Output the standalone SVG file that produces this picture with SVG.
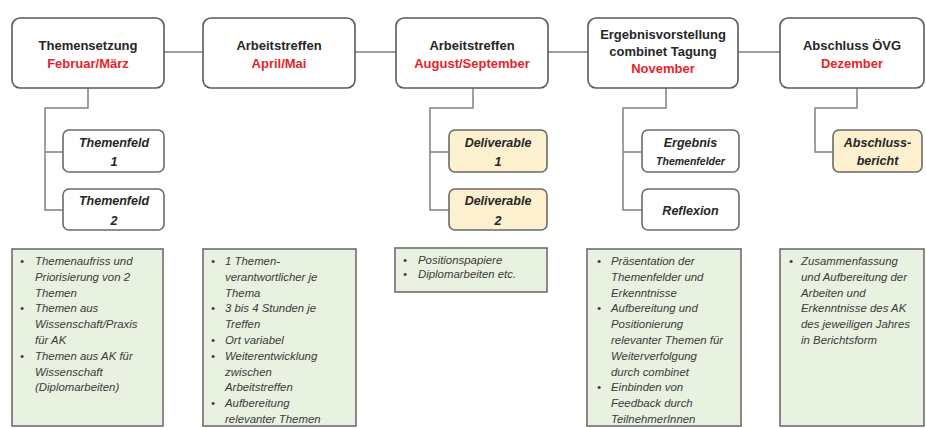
<svg xmlns="http://www.w3.org/2000/svg" width="926" height="428" viewBox="0 0 926 428">
<style>
.top{fill:#fff;stroke:#5a5a5a;stroke-width:1.6}
.sub{fill:#fff;stroke:#6a6a6a;stroke-width:1.6}
.sub.y{fill:#fcf0cf}
.note{fill:#e9f1e1;stroke:#6e6e6e;stroke-width:1.6}
.t{font-family:"Liberation Sans",Arial,sans-serif;font-weight:bold;font-size:13px;fill:#262626;text-anchor:middle}
.r{fill:#e8232b}
.s{font-family:"Liberation Sans",Arial,sans-serif;font-weight:bold;font-style:italic;font-size:12.5px;fill:#262626;text-anchor:middle}
.b{font-family:"Liberation Sans",Arial,sans-serif;font-style:italic;font-size:11.4px;fill:#3a3a3a}
.c{fill:none;stroke:#808080;stroke-width:1.5}
</style>
<rect width="926" height="428" fill="#fff"/>
<g id="connectors">
<path class="c" d="M164 52H203M355 52H396M548 52H588M738 52H780"/>
<path class="c" d="M88 88V108H45V210H63M45 152H63"/>
<path class="c" d="M473 88V108H430V210H449M430 152H449"/>
<path class="c" d="M666 88V108H623V210H642M623 152H642"/>
<path class="c" d="M857 88V108H815V152H833"/>
</g>
<g id="n1"><rect class="top" x="12" y="18" width="152" height="70" rx="8"/>
<text class="t" x="88" y="50">Themensetzung</text><text class="t r" x="88" y="68">Februar/März</text></g>
<g id="n2"><rect class="top" x="203" y="18" width="152" height="70" rx="8"/>
<text class="t" x="279" y="50">Arbeitstreffen</text><text class="t r" x="279" y="68">April/Mai</text></g>
<g id="n3"><rect class="top" x="396" y="18" width="152" height="70" rx="8"/>
<text class="t" x="472" y="50">Arbeitstreffen</text><text class="t r" x="472" y="68">August/September</text></g>
<g id="n4"><rect class="top" x="588" y="18" width="150" height="70" rx="8"/>
<text class="t" x="663" y="38.5">Ergebnisvorstellung</text><text class="t" x="663" y="55.5">combinet Tagung</text><text class="t r" x="663" y="72.5">November</text></g>
<g id="n5"><rect class="top" x="780" y="18" width="144" height="70" rx="8"/>
<text class="t" x="852" y="50">Abschluss ÖVG</text><text class="t r" x="852" y="68">Dezember</text></g>

<g id="s1"><rect class="sub" x="63" y="130" width="101" height="42" rx="6"/>
<text class="s" x="114" y="146.5">Themenfeld</text><text class="s" x="114" y="166">1</text></g>
<g id="s2"><rect class="sub" x="63" y="189" width="101" height="41" rx="6"/>
<text class="s" x="114" y="205">Themenfeld</text><text class="s" x="114" y="224.5">2</text></g>
<g id="s3"><rect class="sub y" x="449" y="130" width="98" height="42" rx="6"/>
<text class="s" x="498" y="146.5">Deliverable</text><text class="s" x="498" y="166">1</text></g>
<g id="s4"><rect class="sub y" x="449" y="189" width="98" height="41" rx="6"/>
<text class="s" x="498" y="205">Deliverable</text><text class="s" x="498" y="224.5">2</text></g>
<g id="s5"><rect class="sub" x="642" y="130" width="97" height="42" rx="6"/>
<text class="s" x="690.5" y="146.5">Ergebnis</text><text class="s" x="690.5" y="165" style="font-size:10.5px">Themenfelder</text></g>
<g id="s6"><rect class="sub" x="642" y="189" width="97" height="41" rx="6"/>
<text class="s" x="690.5" y="214.5">Reflexion</text></g>
<g id="s7"><rect class="sub y" x="833" y="130" width="89" height="42" rx="6"/>
<text class="s" x="877.5" y="146.5">Abschluss-</text><text class="s" x="877.5" y="165">bericht</text></g>

<g id="b1"><rect class="note" x="12" y="249" width="151" height="177"/>
<g class="b"><text x="20" y="265">•</text><text x="20" y="312.4">•</text><text x="20" y="359.8">•</text></g>
<text class="b" x="35" y="265"><tspan x="35">Themenaufriss und</tspan><tspan x="35" dy="15.8">Priorisierung von 2</tspan><tspan x="35" dy="15.8">Themen</tspan><tspan x="35" dy="15.8">Themen aus</tspan><tspan x="35" dy="15.8">Wissenschaft/Praxis</tspan><tspan x="35" dy="15.8">für AK</tspan><tspan x="35" dy="15.8">Themen aus AK für</tspan><tspan x="35" dy="15.8">Wissenschaft</tspan><tspan x="35" dy="15.8">(Diplomarbeiten)</tspan></text></g>
<g id="b2"><rect class="note" x="203" y="249" width="153" height="177"/>
<g class="b"><text x="211" y="265">•</text><text x="211" y="312.4">•</text><text x="211" y="344">•</text><text x="211" y="359.8">•</text><text x="211" y="407.2">•</text></g>
<text class="b" x="225" y="265"><tspan x="225">1 Themen-</tspan><tspan x="225" dy="15.8">verantwortlicher je</tspan><tspan x="225" dy="15.8">Thema</tspan><tspan x="225" dy="15.8">3 bis 4 Stunden je</tspan><tspan x="225" dy="15.8">Treffen</tspan><tspan x="225" dy="15.8">Ort variabel</tspan><tspan x="225" dy="15.8">Weiterentwicklung</tspan><tspan x="225" dy="15.8">zwischen</tspan><tspan x="225" dy="15.8">Arbeitstreffen</tspan><tspan x="225" dy="15.8">Aufbereitung</tspan><tspan x="225" dy="15.8">relevanter Themen</tspan></text></g>
<g id="b3"><rect class="note" x="395" y="248" width="152" height="44"/>
<g class="b"><text x="403" y="264">•</text><text x="403" y="278">•</text></g>
<text class="b" x="418" y="264"><tspan x="418">Positionspapiere</tspan><tspan x="418" dy="14">Diplomarbeiten etc.</tspan></text></g>
<g id="b4"><rect class="note" x="587" y="249" width="154" height="177"/>
<g class="b"><text x="597" y="265">•</text><text x="597" y="312.4">•</text><text x="597" y="391.4">•</text></g>
<text class="b" x="611" y="265"><tspan x="611">Präsentation der</tspan><tspan x="611" dy="15.8">Themenfelder und</tspan><tspan x="611" dy="15.8">Erkenntnisse</tspan><tspan x="611" dy="15.8">Aufbereitung und</tspan><tspan x="611" dy="15.8">Positionierung</tspan><tspan x="611" dy="15.8">relevanter Themen für</tspan><tspan x="611" dy="15.8">Weiterverfolgung</tspan><tspan x="611" dy="15.8">durch combinet</tspan><tspan x="611" dy="15.8">Einbinden von</tspan><tspan x="611" dy="15.8">Feedback durch</tspan><tspan x="611" dy="15.8">TeilnehmerInnen</tspan></text></g>
<g id="b5"><rect class="note" x="780" y="249" width="144" height="177"/>
<g class="b"><text x="789" y="265">•</text></g>
<text class="b" x="801" y="265"><tspan x="801">Zusammenfassung</tspan><tspan x="801" dy="15.8">und Aufbereitung der</tspan><tspan x="801" dy="15.8">Arbeiten und</tspan><tspan x="801" dy="15.8">Erkenntnisse des AK</tspan><tspan x="801" dy="15.8">des jeweiligen Jahres</tspan><tspan x="801" dy="15.8">in Berichtsform</tspan></text></g>
</svg>
